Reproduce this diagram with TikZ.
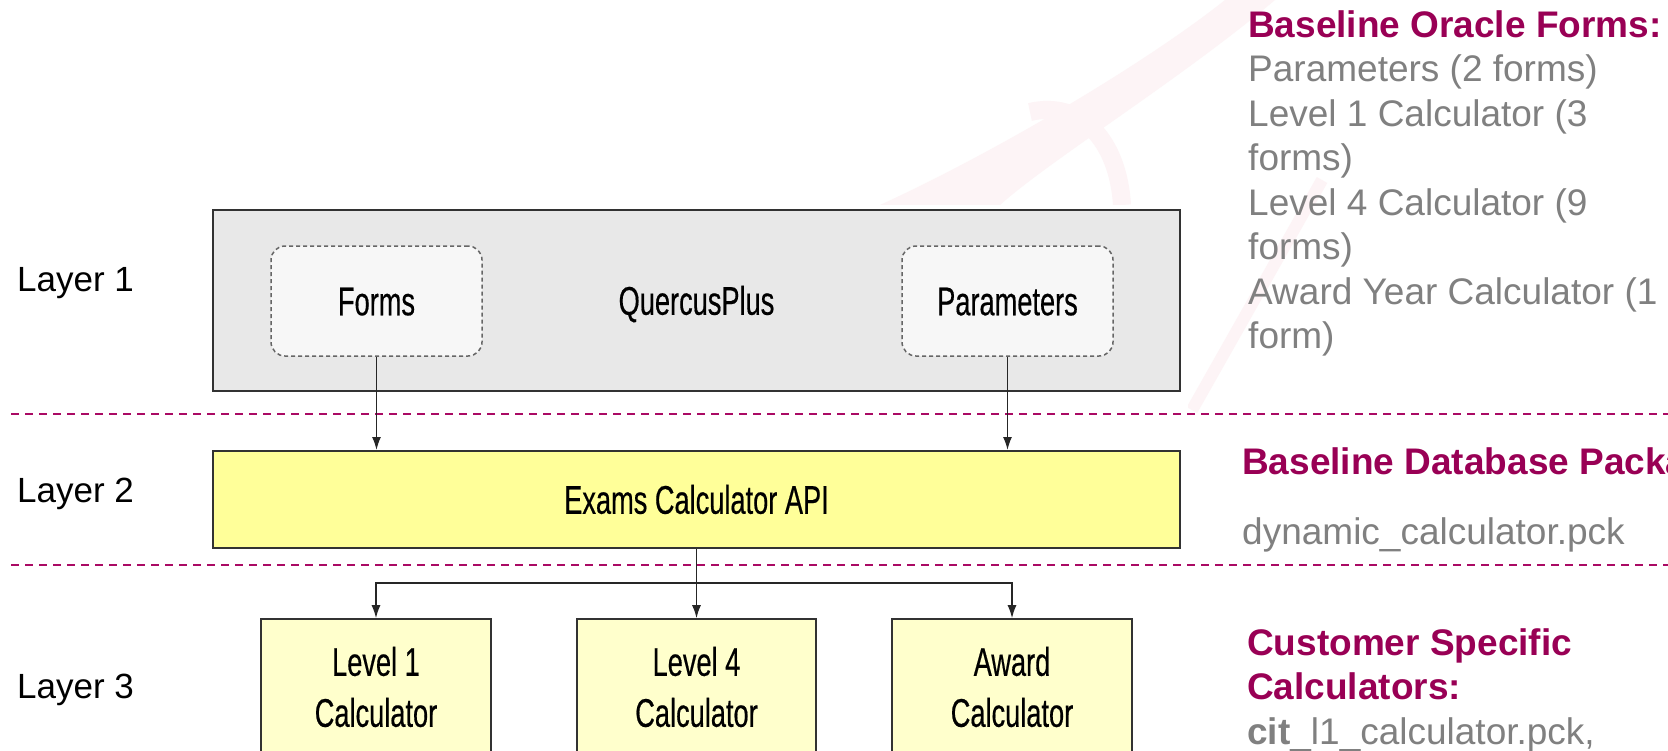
\documentclass[tikz,border=0pt]{standalone}
\usepackage{fontspec}
\setmainfont{Liberation Sans}
\newfontfamily\narrowfont[FakeStretch=0.68,FakeBold=0.4]{Liberation Sans}
\usetikzlibrary{arrows.meta}
\definecolor{plum}{RGB}{153,0,85}
\definecolor{dashplum}{RGB}{170,10,100}
\definecolor{bodygray}{RGB}{128,128,128}
\definecolor{wmpink}{RGB}{253,244,246}
\definecolor{boxgray}{RGB}{232,232,232}
\definecolor{innergray}{RGB}{247,247,247}
\definecolor{apiyellow}{RGB}{255,255,153}
\definecolor{calcyellow}{RGB}{255,255,204}
\definecolor{edge}{RGB}{50,50,50}
\tikzset{
  layerlabel/.style={anchor=base west, inner sep=0pt, font=\fontsize{35}{42}\selectfont},
  boxtext/.style={font=\narrowfont\fontsize{40}{51}\selectfont, align=center, inner sep=0pt},
  outerbox/.style={boxtext, draw=edge, line width=2pt, fill=boxgray, minimum width=967pt, minimum height=181pt, text height=28.5pt, text depth=0pt},
  innerbox/.style={boxtext, draw=black!60, dashed, dash pattern=on 4pt off 3pt, line width=1.5pt, fill=innergray, rounded corners=14pt, minimum width=211pt, minimum height=110pt, text height=28.5pt, text depth=0pt},
  apibox/.style={boxtext, draw=edge, line width=2pt, fill=apiyellow, minimum width=967pt, minimum height=97pt, text height=28.5pt, text depth=0pt},
  calcbox/.style={boxtext, draw=edge, line width=1.6pt, fill=calcyellow, minimum height=136pt},
  conn/.style={draw=black!85, line width=1.5pt, -{Latex[length=13pt,width=9pt]}},
  sepline/.style={draw=dashplum, line width=2pt, dash pattern=on 8pt off 6pt},
  sidetext/.style={anchor=north west, inner sep=0pt, align=left, text=bodygray, font=\fontsize{37}{44.5}\selectfont},
}
\begin{document}
\begin{tikzpicture}[x=1pt,y=-1pt]
\useasboundingbox (0,0) rectangle (1668,750);
\clip (0,0) rectangle (1668,750);
\fill[white] (0,0) rectangle (1668,750);
% faint watermark
\fill[wmpink] (880,205) .. controls (1000,150) and (1150,60) .. (1225,0) -- (1275,0) .. controls (1180,80) and (1050,160) .. (1000,205) -- cycle;
\draw[wmpink, line width=18pt] (1030,112) .. controls (1080,100) and (1118,140) .. (1122,205);
\draw[wmpink, line width=12pt] (1322,180) -- (1192,410);
\fill[white] (190,205) rectangle (1188,750);

% separators
\draw[sepline] (11,414) -- (1668,414);
\draw[sepline] (11,565) -- (1668,565);

% layer labels
\node[layerlabel] (lay1) at (17,291) {Layer 1};
\node[layerlabel] (lay2) at (17,502) {Layer 2};
\node[layerlabel] (lay3) at (17,698) {Layer 3};

% layer 1
\node[outerbox] (qp) at (696.5,300.5) {QuercusPlus};
\node[innerbox] (forms) at (376.5,301) {Forms};
\node[innerbox] (params) at (1007.5,301) {Parameters};

% layer 2
\node[apibox] (api) at (696.5,499.5) {Exams Calculator API};

% layer 3
\node[calcbox, minimum width=230pt] (l1) at (376,687) {Level 1\\Calculator};
\node[calcbox, minimum width=239pt] (l4) at (696.5,687) {Level 4\\Calculator};
\node[calcbox, minimum width=240pt] (aw) at (1012,687) {Award\\Calculator};

% connectors
\draw[conn] (forms.south) -- (forms.south |- api.north);
\draw[conn] (params.south) -- (params.south |- api.north);
\coordinate (j) at (696.5,583);
\draw[conn] (api.south) -- (l4.north);
\draw[conn] (api.south) -- (j) -| (l1.north);
\draw[conn] (j) -| (aw.north);

% side texts
\node[sidetext] (t1) at (1248,10) {{\bfseries\color{plum}Baseline Oracle Forms:}\\Parameters (2 forms)\\Level 1 Calculator (3\\forms)\\Level 4 Calculator (9\\forms)\\Award Year Calculator (1\\form)};
\node[sidetext] (t2) at (1242,447) {{\bfseries\color{plum}Baseline Database Package:}\\[26pt]dynamic\_calculator.pck};
\node[sidetext] (t3) at (1247,628) {{\bfseries\color{plum}Customer Specific}\\{\bfseries\color{plum}Calculators:}\\{\bfseries cit}\_l1\_calculator.pck,};
\end{tikzpicture}
\end{document}
